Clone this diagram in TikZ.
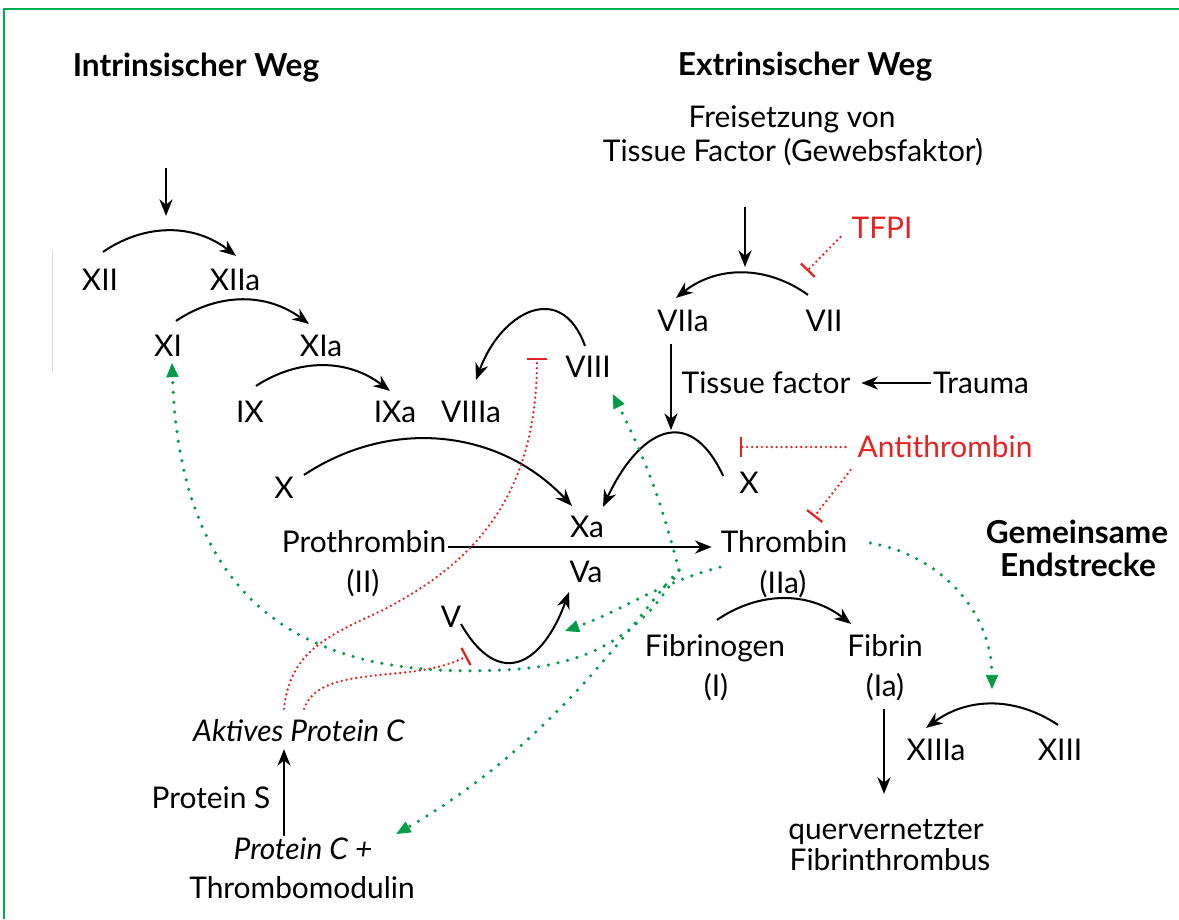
\documentclass[tikz,border=0pt]{standalone}
\usepackage{fontspec}
\setmainfont{Lato}
\usetikzlibrary{arrows.meta, calc}

\definecolor{inhred}{RGB}{228,36,36}
\definecolor{actgreen}{RGB}{0,155,72}
\definecolor{framegreen}{RGB}{0,176,80}

\begin{document}
\begin{tikzpicture}[
        x=0.02cm, y=-0.02cm,
        >={Stealth[length=9.5pt, width=7.5pt]},
        factor/.style={inner sep=1pt, text height=12pt, text depth=0.5pt, font=\fontsize{17}{20}\selectfont},
        title/.style={factor, font=\fontsize{18}{21}\selectfont\bfseries},
        inhtext/.style={factor, text=inhred},
        conv/.style={->, line width=1.15pt},
        inhib/.style={-{Bar[width=11pt, line width=1.3pt]}, color=inhred, line width=1.5pt, line cap=round, dash pattern=on 0pt off 2.8pt},
        activ/.style={-{Triangle[length=8pt, width=7pt, line width=0.4pt]}, color=actgreen, line width=2pt, line cap=round, dash pattern=on 0pt off 5.6pt},
    ]

    \useasboundingbox (0,0) rectangle (1179,919);
    % frame
    \draw[framegreen, line width=1.7pt] (4,919) -- (4,9) -- (1179,9);
    \draw[black!15, line width=0.4pt] (52,250) -- (52,373);

    % Draw the headings
    \foreach \name/\x/\y/\txt in {intr/196/66/Intrinsischer Weg, extr/805/65/Extrinsischer Weg,
                                  gem/1077/533/Gemeinsame, endst/1078/566/Endstrecke}
        \node[title] (\name) at (\x,\y) {\txt};

    % Draw the factors of the intrinsic pathway
    \foreach \name/\x/\y/\txt in {xii/100/280/XII, xiia/235/280/XIIa, xi/168/346/XI, xia/321/346/XIa,
                                  ix/250/412/IX, ixa/395/412/IXa, viiia/471/412/VIIIa, viii/588/367/VIII}
        \node[factor] (\name) at (\x,\y) {\txt};

    % Draw the factors of the extrinsic pathway
    \foreach \name/\x/\y/\txt in {freis/792/117/Freisetzung von, tfac/793/151/Tissue Factor (Gewebsfaktor),
                                  viia/683/321/VIIa, vii/824/321/VII, tf/766/383/Tissue factor, trauma/981/383/Trauma}
        \node[factor] (\name) at (\x,\y) {\txt};

    % Draw the factors of the common pathway
    \foreach \name/\x/\y/\txt in {xl/284/488/X, xr/749/483/X, xa/587/527/Xa, va/586/572/Va, v/451/617/V,
                                  proth/364/542/Prothrombin, protii/363/582/(II), thr/784/542/Thrombin, thriia/783/583/(IIa),
                                  fbg/715/646/Fibrinogen, fbgi/716/686/(I), fbn/885/646/Fibrin, fbnia/885/686/(Ia),
                                  xiiia/936/750/XIIIa, xiii/1060/750/XIII, qv/886/829/quervernetzter, fth/890/860/Fibrinthrombus,
                                  ps/211/798/Protein S, tm/302/888/Thrombomodulin}
        \node[factor] (\name) at (\x,\y) {\txt};
    \node[factor, font=\fontsize{17}{20}\selectfont\itshape] (apc) at (299,731) {Aktives Protein C};
    \node[factor, font=\fontsize{17}{20}\selectfont\itshape] (pc) at (303,849) {Protein C +};

    % Draw the inhibitors
    \node[inhtext] (tfpi) at (882,228) {TFPI};
    \node[inhtext] (at) at (945,447) {Antithrombin};

    % Conversions of the intrinsic pathway
    \coordinate (intr-a) at (166,168);
    \coordinate (intr-b) at (166,216);
    \draw[conv] (intr-a) -- (intr-b);
    \draw[conv] ($(xii.north)+(3,-15)$) to[bend left=36] ($(xiia.north)+(1,-11)$);
    \draw[conv] ($(xi.north)+(8,-12)$) to[bend left=35] ($(xia.north)+(-12,-9)$);
    \draw[conv] ($(ix.north)+(6,-13)$) to[bend left=35] ($(ixa.north)+(-5,-8)$);
    \draw[conv] ($(viii.north)+(-3,-8)$) to[out=110, in=70, looseness=1.6] ($(viiia.north)+(5,-19)$);

    % Conversions of the extrinsic pathway
    \coordinate (ext-a) at (745,207);
    \coordinate (ext-b) at (745,267);
    \coordinate (xr-top) at (671,430);
    \draw[conv] (ext-a) -- (ext-b);
    \draw[conv] ($(vii.north)+(-16,-13)$) to[bend right=37] ($(viia.north)+(-7,-10)$);
    \draw[conv] ($(viia.south)+(-12,10)$) -- (xr-top);
    \draw[conv] (trauma.west) -- ($(tf.east)+(9,0)$);

    % Conversions of the common pathway
    \draw[conv] ($(xr.west)+(-14,-7)$) to[out=115, in=65, looseness=1.7] ($(xa.north)+(16,-7)$);
    \draw[conv] ($(xl.north)+(20,0)$) to[bend left=40] ($(xa.north)+(-15,-8)$);
    \draw[conv] ($(v.south)+(10,-6)$) to[out=-60, in=-110, looseness=1.75] ($(va.south)+(-17,7)$);
    \draw[conv, shorten >=4pt] ($(proth.east)+(0,5)$) -- ($(thr.west)+(0,5)$);
    \draw[conv] ($(fbg.north)+(2,-13)$) to[bend left=36] ($(fbn.north)+(-34,-9)$);
    \draw[conv] ($(fbnia.south)+(-1,10)$) -- ($(qv.north)+(-2,-22)$);
    \draw[conv] ($(xiii.north)+(-2,-12)$) to[bend right=35] ($(xiiia.north)+(-10,-9)$);
    \draw[conv] ($(pc.north)+(-19,0)$) -- ($(apc.south)+(-15,5)$);

    % Inhibitions
    \coordinate (vii-inh) at (807,271);
    \coordinate (xr-inh) at (740,447);
    \coordinate (v-inh) at (467,656);
    \coordinate (viii-inh) at (537,358);
    \draw[inhib] ($(tfpi.west)+(-9,9)$) -- (vii-inh);
    \draw[inhib] ($(at.west)+(-10,0)$) -- (xr-inh);
    \draw[inhib] ($(at.south west)+(-5,10)$) -- ($(thr.north)+(30,-12)$);
    \draw[inhib] ($(apc.north)+(-15,-9)$) .. controls (290,650) and (330,635) .. (383,610)
                                          .. controls (470,565) and (537,500) .. (viii-inh);
    \draw[inhib] ($(apc.north)+(5,-9)$) .. controls (314,682) and (345,678) .. (400,673)
                                         .. controls (430,670) and (450,665) .. (v-inh);

    % Activations by thrombin
    \coordinate (thr-src) at ($(thr.south)+(-105,15)$);
    \coordinate (va-act) at (565,631);
    \coordinate (xiii-act) at (992,689);
    \draw[activ] ($(thr.east)+(21,1)$) to[out=-10, in=90] (xiii-act);
    \draw[activ] ($(thr.south)+(-64,12)$) to[out=195, in=20] (va-act);
    \draw[activ] (thr-src) to[bend right=6] ($(viii.south east)+(0,14)$);
    \draw[activ] (thr-src) .. controls (640,610) and (560,740) .. ($(pc.north east)+(22,-2)$);
    \draw[activ] (thr-src) .. controls (640,640) and (580,668) .. (500,670)
                           .. controls (300,680) and (180,600) .. ($(xi.south)+(4,4)$);
\end{tikzpicture}
\end{document}
